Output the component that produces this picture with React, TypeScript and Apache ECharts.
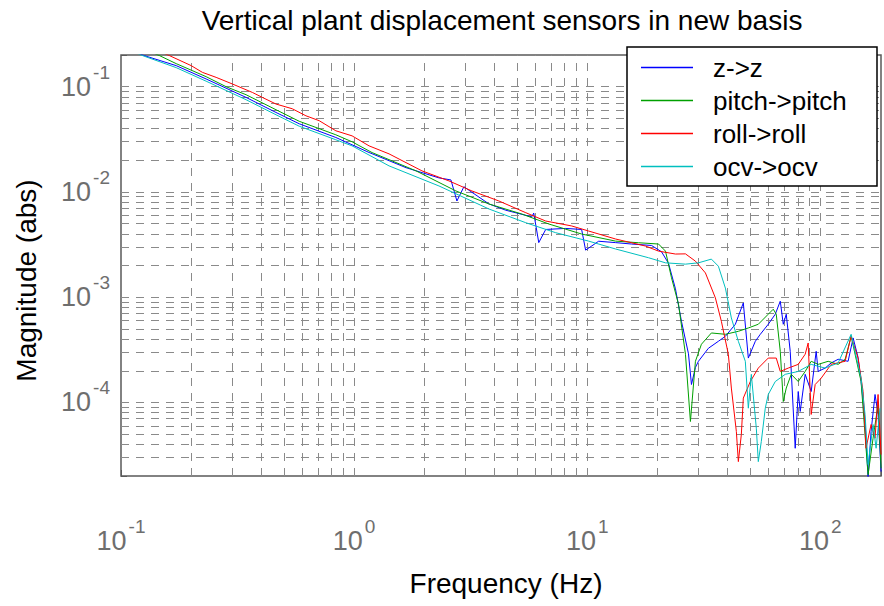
import React, { useEffect, useRef } from 'react';
import * as echarts from 'echarts';

const FONT = "'Liberation Sans', Arial, Helvetica, sans-serif";

const TITLE = 'Vertical plant displacement sensors in new basis';
const X_NAME = 'Frequency (Hz)';
const Y_NAME = 'Magnitude (abs)';
const SERIES_NAMES = ['z->z', 'pitch->pitch', 'roll->roll', 'ocv->ocv'];
const SERIES_COLORS = ['#0000ff', '#00a000', '#ff0000', '#00bfbf'];

const X_MIN = 0.1;
const X_MAX = 182;
const Y_MIN = 2e-5;
const Y_MAX = 0.2;

const X_GRID = [
  0.2, 0.3, 0.4, 0.5, 0.6, 0.7, 0.8, 0.9, 1,
  2, 3, 4, 5, 6, 7, 8, 9, 10,
  20, 30, 40, 50, 60, 70, 80, 90, 100,
];
const Y_GRID = [
  3e-5, 4e-5, 5e-5, 6e-5, 7e-5, 8e-5, 9e-5, 1e-4,
  2e-4, 3e-4, 4e-4, 5e-4, 6e-4, 7e-4, 8e-4, 9e-4, 1e-3,
  2e-3, 3e-3, 4e-3, 5e-3, 6e-3, 7e-3, 8e-3, 9e-3, 0.01,
  0.02, 0.03, 0.04, 0.05, 0.06, 0.07, 0.08, 0.09, 0.1,
];

const zData = [
  [0.1, 0.245], [0.1262, 0.197], [0.1725, 0.1585], [0.2318, 0.1184], [0.3439, 0.0791],
  [0.4622, 0.0569], [0.5815, 0.0444], [0.835, 0.0329], [1.159, 0.0237], [1.67, 0.017],
  [2.311, 0.0136], [2.602, 0.013], [2.76, 0.0082], [2.957, 0.0112], [3.784, 0.0077],
  [4.474, 0.0067], [5.781, 0.0058], [5.895, 0.0063], [6.194, 0.0033], [6.636, 0.0044],
  [8.08, 0.0045], [9.46, 0.0044], [9.84, 0.0028], [11.19, 0.0034], [13.23, 0.0033],
  [15.49, 0.0032], [18.87, 0.0031], [20.83, 0.0027], [22.31, 0.0021], [23.9, 0.0012],
  [25.36, 0.00059], [27.18, 0.00029], [27.99, 0.000148], [29.11, 0.000215], [29.99, 0.000246],
  [33.09, 0.000327], [36.52, 0.000381], [39.13, 0.000425], [43.18, 0.000553], [46.72, 0.000882],
  [49.09, 0.000264], [52.6, 0.000381], [55.25, 0.000444], [59.77, 0.000553], [64.05, 0.000689],
  [67.3, 0.000916], [69.32, 0.000553], [71.39, 0.000689], [74.25, 0.000306], [78.0, 0.0000367],
  [80.35, 0.000127], [81.94, 0.0000821], [86.07, 0.000185], [91.34, 0.000127], [95.94, 0.000306],
  [97.86, 0.000197], [104.8, 0.000212], [111.2, 0.000237], [119.2, 0.000257], [131.5, 0.000246],
  [138.2, 0.00041], [145.1, 0.000268], [149.5, 0.000158], [155.5, 0.0000659], [160.2, 0.0000193],
  [165.0, 0.000053], [171.6, 0.000119], [176.8, 0.0000769], [182.1, 0.000022],
];

const pitchData = [
  [0.12, 0.237], [0.1463, 0.1973], [0.1725, 0.1656], [0.2, 0.1436], [0.2318, 0.1245],
  [0.2823, 0.1], [0.3439, 0.0839], [0.4622, 0.0604], [0.5815, 0.0469], [0.835, 0.0349],
  [0.98, 0.02994], [1.194, 0.02366], [1.843, 0.01585], [2.733, 0.01022], [3.784, 0.00769],
  [5.238, 0.00617], [6.836, 0.00496], [9.46, 0.00398], [13.23, 0.00341], [16.6, 0.00329],
  [20.22, 0.0032], [21.66, 0.00274], [22.98, 0.00153], [24.63, 0.000858], [26.38, 0.000287],
  [27.71, 0.0000659], [29.11, 0.000246], [30.89, 0.000357], [34.08, 0.000457], [39.13, 0.000444],
  [44.48, 0.000474], [49.09, 0.00051], [54.17, 0.000553], [59.77, 0.000689], [62.8, 0.000769],
  [64.68, 0.000689], [67.3, 0.000306], [69.32, 0.000102], [71.39, 0.000137], [74.99, 0.000185],
  [80.35, 0.000158], [86.07, 0.000197], [91.34, 0.000246], [97.86, 0.00023], [108.0, 0.000246],
  [119.2, 0.00023], [127.7, 0.000257], [135.5, 0.000425], [149.5, 0.000158], [157.0, 0.0000367],
  [160.2, 0.0000206], [168.3, 0.0000457], [176.8, 0.0000957], [182.1, 0.0000237],
];

const rollData = [
  [0.12, 0.26], [0.1614, 0.1973], [0.2, 0.1585], [0.2235, 0.1368], [0.2559, 0.1226],
  [0.3004, 0.1061], [0.366, 0.0882], [0.4039, 0.0791], [0.4622, 0.0684], [0.5428, 0.0617],
  [0.6213, 0.0529], [0.7084, 0.0475], [0.835, 0.0381], [0.98, 0.0341], [1.159, 0.0274],
  [1.412, 0.023], [1.955, 0.01585], [2.551, 0.01273], [3.2, 0.01022], [4.175, 0.00821],
  [5.449, 0.00635], [6.636, 0.00529], [8.577, 0.00475], [10.14, 0.00425], [13.23, 0.00357],
  [17.78, 0.00306], [20.22, 0.00274], [23.9, 0.00257], [26.38, 0.00258], [29.11, 0.0022],
  [32.13, 0.0017], [35.45, 0.000985], [37.61, 0.00059], [40.3, 0.000287], [41.51, 0.000137],
  [43.61, 0.000053], [44.48, 0.0000274], [45.81, 0.0000496], [46.72, 0.00011], [50.06, 0.000158],
  [54.17, 0.000212], [59.77, 0.000264], [64.68, 0.000264], [67.3, 0.000197], [72.81, 0.000212],
  [80.35, 0.00023], [86.07, 0.000287], [88.66, 0.000367], [91.34, 0.0000769], [94.99, 0.000148],
  [100.8, 0.00017], [111.2, 0.00023], [127.7, 0.000246], [135.5, 0.000425], [145.1, 0.000264],
  [152.5, 0.000127], [157.0, 0.0000367], [165.0, 0.0000617], [171.6, 0.0000457], [176.8, 0.000119],
  [182.1, 0.000032],
];

const ocvData = [
  [0.1, 0.24], [0.1238, 0.1973], [0.1725, 0.1517], [0.2318, 0.1128], [0.3439, 0.0752],
  [0.4622, 0.0541], [0.5815, 0.0421], [0.835, 0.0313], [0.98, 0.0274], [1.412, 0.01768],
  [2.311, 0.0114], [3.784, 0.00689], [5.449, 0.0051], [7.322, 0.0041], [10.14, 0.00341],
  [13.23, 0.00287], [18.32, 0.00237], [21.66, 0.00212], [26.38, 0.00206], [29.99, 0.00212],
  [34.08, 0.0023], [36.52, 0.00197], [39.13, 0.00122], [41.51, 0.000635], [44.48, 0.000381],
  [47.65, 0.000246], [49.09, 0.0000882], [50.56, 0.000185], [53.12, 0.0000569], [54.17, 0.0000274],
  [55.8, 0.0000425], [58.03, 0.0000882], [59.77, 0.000119], [64.05, 0.000158], [70.68, 0.000185],
  [80.35, 0.000197], [91.34, 0.00023], [104.8, 0.000212], [119.2, 0.000237], [135.5, 0.000444],
  [149.5, 0.00017], [155.5, 0.0000769], [160.2, 0.0000257], [168.3, 0.0000617], [173.4, 0.0000367],
  [180.3, 0.0000882],
];

const SERIES_DATA = [zData, pitchData, rollData, ocvData];

const tickFormatter = (v: number) => {
  const l = Math.log10(v);
  const e = Math.round(l);
  if (Math.abs(l - e) > 1e-6) return '';
  return `{b|10}{s|${e}}`;
};

const tickRich = {
  b: { fontSize: 27, color: '#6e6e6e', fontFamily: FONT, lineHeight: 48, verticalAlign: 'middle' },
  s: { fontSize: 19, color: '#6e6e6e', fontFamily: FONT, verticalAlign: 'top', padding: [0, 0, 0, 2] },
};

const gridLines = [
  ...X_GRID.map((v) => ({ coords: [[v, Y_MIN], [v, Y_MAX]] })),
  ...Y_GRID.map((v) => ({ coords: [[X_MIN, v], [X_MAX, v]] })),
];

export default function App() {
  const ref = useRef<HTMLDivElement>(null);
  useEffect(() => {
    if (!ref.current) return;
    const chart = echarts.init(ref.current, undefined, { renderer: 'svg' });
    const option: any = {
      animation: false,
      backgroundColor: '#ffffff',
      title: {
        text: TITLE,
        left: 502,
        top: 6,
        textAlign: 'center',
        padding: 0,
        textStyle: { fontSize: 28, fontWeight: 'normal', color: '#000', fontFamily: FONT },
      },
      grid: {
        left: 121,
        top: 55,
        width: 762,
        height: 421,
        show: true,
        borderColor: '#5a5a5a',
        borderWidth: 1.5,
        backgroundColor: 'transparent',
        containLabel: false,
      },
      xAxis: {
        type: 'log',
        logBase: 10,
        min: X_MIN,
        max: X_MAX,
        name: X_NAME,
        nameLocation: 'middle',
        nameGap: 93,
        nameTextStyle: { fontSize: 28, color: '#000', fontFamily: FONT, padding: [0, 0, 0, 10] },
        axisLine: { show: false },
        axisTick: { show: true, inside: true, length: 6, lineStyle: { color: '#5a5a5a' } },
        axisLabel: { formatter: tickFormatter, rich: tickRich, margin: 41, showMinLabel: true, showMaxLabel: true },
        splitLine: { show: false },
      },
      yAxis: {
        type: 'log',
        logBase: 10,
        min: Y_MIN,
        max: Y_MAX,
        name: Y_NAME,
        nameLocation: 'middle',
        nameGap: 81,
        nameTextStyle: { fontSize: 28, color: '#000', fontFamily: FONT, padding: [0, 30, 0, 0] },
        axisLine: { show: false },
        axisTick: { show: true, inside: true, length: 6, lineStyle: { color: '#5a5a5a' } },
        axisLabel: { formatter: tickFormatter, rich: tickRich, margin: 11, showMinLabel: true, showMaxLabel: true },
        splitLine: { show: false },
      },
      legend: {
        orient: 'vertical',
        left: 641,
        top: 51,
        padding: 0,
        itemGap: 0,
        itemWidth: 52,
        itemHeight: 1.5,
        icon: 'rect',
        z: 11,
        data: SERIES_NAMES,
        textStyle: { fontSize: 26, color: '#000', fontFamily: FONT, lineHeight: 33, padding: [0, 0, 0, 15] },
      },
      graphic: [
        {
          type: 'rect',
          z: 10,
          shape: { x: 627, y: 47, width: 250, height: 139 },
          style: { fill: '#ffffff', stroke: '#000000', lineWidth: 1.5 },
        },
      ],
      series: [
        {
          type: 'lines',
          name: '__grid',
          coordinateSystem: 'cartesian2d',
          polyline: false,
          silent: true,
          z: 1,
          lineStyle: { color: '#8a8a8a', width: 1, type: [8, 7], opacity: 1 },
          emphasis: { disabled: true },
          data: gridLines,
        },
        ...SERIES_NAMES.map((name, i) => ({
          type: 'line',
          name,
          data: SERIES_DATA[i],
          symbol: 'none',
          showSymbol: false,
          clip: true,
          z: 3 + i,
          lineStyle: { color: SERIES_COLORS[i], width: 1 },
          itemStyle: { color: SERIES_COLORS[i] },
          emphasis: { disabled: true },
        })),
      ],
    };
    chart.setOption(option);
    return () => chart.dispose();
  }, []);
  return (
    <div
      ref={ref}
      style={{ position: 'fixed', left: 0, top: 0, width: 884, height: 606, background: '#fff' }}
    />
  );
}
